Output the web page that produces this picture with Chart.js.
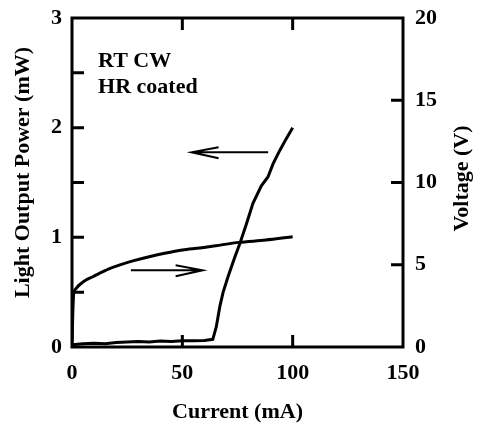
<!DOCTYPE html>
<html>
<head>
<meta charset="utf-8">
<script src="https://cdn.jsdelivr.net/npm/chart.js@4"></script>
<style>
  html, body { margin: 0; padding: 0; background: #fff; }
  #wrap { width: 481px; height: 428px; position: relative; }
</style>
</head>
<body>
<div id="wrap"><canvas id="liChart"></canvas></div>
<script>
// L-I curve (left axis, mW)
const currentLI = [0, 5, 10, 15, 20, 25, 30, 35, 40, 45, 50, 55, 60, 63.8,
  65.4, 67.0, 68.5, 70.7, 73.8, 76.0, 79.0, 82.0, 85.8, 88.8, 91.1, 94.1, 97.1, 100];
const powerLI = [0.02, 0.03, 0.035, 0.03, 0.04, 0.045, 0.05, 0.045, 0.055, 0.05, 0.057, 0.057, 0.06, 0.07,
  0.185, 0.37, 0.50, 0.64, 0.82, 0.94, 1.12, 1.31, 1.47, 1.55, 1.67, 1.79, 1.90, 2.00];

// I-V curve (right axis, V)
const currentV = [0, 0.8, 2.0, 3.3, 6.3, 9.4, 12.4, 16.5, 21.4, 28, 35.0, 42, 50.1, 57.9, 65.2, 75.7, 87.8, 100];
const voltageV = [0, 3.35, 3.58, 3.77, 4.07, 4.27, 4.48, 4.74, 4.98, 5.25, 5.49, 5.70, 5.90, 6.02, 6.16, 6.36, 6.50, 6.70];

// tick labels
const xTicks = [0, 50, 100, 150];
const powerTicks = [0, 1, 2, 3];
const voltageTicks = [0, 5, 10, 15, 20];
const powerMinor = [0.5, 1.5, 2.5];

// axis titles
const xTitle = "Current (mA)";
const leftTitle = "Light Output Power (mW)";
const rightTitle = "Voltage (V)";

// annotations (data coordinates, left axis)
const labels = [
  { text: "RT CW", x: 11.8, y: 2.557 },
  { text: "HR coated", x: 11.8, y: 2.312 }
];
const arrows = [
  { from: 88.9, to: 54.2, y: 1.775 },
  { from: 26.7, to: 59.2, y: 0.70 }
];

const FONT = { family: "'Liberation Serif', 'Times New Roman', serif", size: 22, weight: "bold" };
const FONT_CSS = "bold 22px 'Liberation Serif', 'Times New Roman', serif";

function pairs(xs, ys) {
  return xs.map((x, i) => ({ x: x, y: ys[i] }));
}

// frame, inward ticks, arrows, text, titles
const framePlugin = {
  id: "frame",
  afterDatasetsDraw(chart) {
    const ctx = chart.ctx;
    const a = chart.chartArea;
    const sx = chart.scales.x, sl = chart.scales.yP, sr = chart.scales.yV;
    const tick = 12;
    ctx.save();
    ctx.strokeStyle = "#000";
    ctx.lineWidth = 3;
    ctx.lineCap = "butt";
    ctx.strokeRect(a.left, a.top, a.right - a.left, a.bottom - a.top);

    ctx.beginPath();
    xTicks.slice(1, -1).forEach(v => {
      const px = sx.getPixelForValue(v);
      ctx.moveTo(px, a.bottom); ctx.lineTo(px, a.bottom - tick);
      ctx.moveTo(px, a.top); ctx.lineTo(px, a.top + tick);
    });
    powerTicks.slice(1, -1).concat(powerMinor).forEach(v => {
      const py = sl.getPixelForValue(v);
      ctx.moveTo(a.left, py); ctx.lineTo(a.left + tick, py);
    });
    voltageTicks.slice(1, -1).forEach(v => {
      const py = sr.getPixelForValue(v);
      ctx.moveTo(a.right, py); ctx.lineTo(a.right - tick, py);
    });
    ctx.stroke();

    // arrows
    ctx.lineWidth = 2;
    arrows.forEach(ar => {
      const x0 = sx.getPixelForValue(ar.from);
      const x1 = sx.getPixelForValue(ar.to);
      const y = sl.getPixelForValue(ar.y);
      const dir = x1 > x0 ? 1 : -1;
      ctx.beginPath();
      ctx.moveTo(x0, y); ctx.lineTo(x1, y);
      ctx.moveTo(x1 - dir * 27, y - 5); ctx.lineTo(x1, y); ctx.lineTo(x1 - dir * 27, y + 6);
      ctx.stroke();
    });

    // text
    ctx.fillStyle = "#000";
    ctx.font = FONT_CSS;
    ctx.textAlign = "left";
    ctx.textBaseline = "alphabetic";
    labels.forEach(l => {
      ctx.fillText(l.text, sx.getPixelForValue(l.x), sl.getPixelForValue(l.y));
    });

    // axis titles
    const midY = (a.top + a.bottom) / 2;
    ctx.textAlign = "center";
    ctx.textBaseline = "middle";
    ctx.fillText(xTitle, (a.left + a.right) / 2, 412);
    [[23, midY - 10, leftTitle], [462, midY - 4, rightTitle]].forEach(([tx, ty, t]) => {
      ctx.save();
      ctx.translate(tx, ty);
      ctx.rotate(-Math.PI / 2);
      ctx.fillText(t, 0, 0);
      ctx.restore();
    });
    ctx.restore();
  }
};

function noPad(s) {
  s.paddingTop = 0; s.paddingBottom = 0; s.paddingLeft = 0; s.paddingRight = 0;
}

new Chart(document.getElementById("liChart"), {
  type: "line",
  data: {
    datasets: [
      {
        label: "Light output",
        data: pairs(currentLI, powerLI),
        yAxisID: "yP",
        borderColor: "#000",
        borderWidth: 3,
        pointRadius: 0,
        tension: 0,
        fill: false
      },
      {
        label: "Voltage",
        data: pairs(currentV, voltageV),
        yAxisID: "yV",
        borderColor: "#000",
        borderWidth: 3,
        pointRadius: 0,
        tension: 0.3,
        fill: false
      }
    ]
  },
  options: {
    responsive: true,
    maintainAspectRatio: false,
    animation: false,
    layout: { padding: { top: 18, left: 0, right: 0, bottom: 0 } },
    plugins: { legend: { display: false }, tooltip: { enabled: false } },
    scales: {
      x: {
        type: "linear",
        min: 0, max: 150,
        afterFit: s => { s.height = 81; noPad(s); },
        afterBuildTicks: s => { s.ticks = xTicks.map(v => ({ value: v })); },
        grid: { display: false, drawTicks: false },
        border: { display: false },
        ticks: { color: "#000", font: FONT, padding: 13, maxRotation: 0 }
      },
      yP: {
        type: "linear",
        position: "left",
        min: 0, max: 3,
        afterFit: s => { s.width = 72; noPad(s); },
        afterBuildTicks: s => { s.ticks = powerTicks.map(v => ({ value: v })); },
        grid: { display: false, drawTicks: false },
        border: { display: false },
        ticks: { color: "#000", font: FONT, padding: 10 }
      },
      yV: {
        type: "linear",
        position: "right",
        min: 0, max: 20,
        afterFit: s => { s.width = 78; noPad(s); },
        afterBuildTicks: s => { s.ticks = voltageTicks.map(v => ({ value: v })); },
        grid: { display: false, drawTicks: false },
        border: { display: false },
        ticks: { color: "#000", font: FONT, padding: 12 }
      }
    }
  },
  plugins: [framePlugin]
});
</script>
</body>
</html>
